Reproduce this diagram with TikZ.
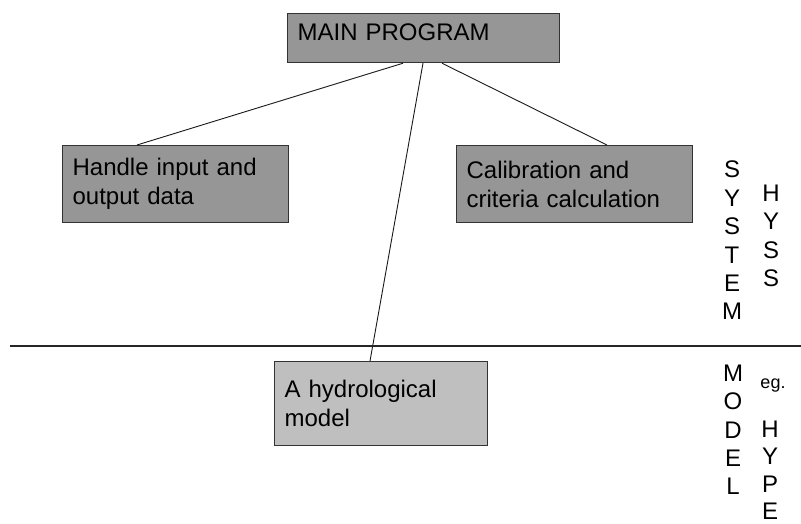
\documentclass[tikz,border=0pt]{standalone}
\usepackage{fontspec}
\setmainfont{Liberation Sans}
\begin{document}
\begin{tikzpicture}[x=1pt,y=-1pt,
  font=\fontsize{24}{28.8}\selectfont,
  box/.style={draw=black!80, line width=1.2pt, anchor=north west, align=left, inner xsep=10pt, inner ysep=0pt},
  darkbox/.style={box, fill=black!41},
  lightbox/.style={box, fill=black!25},
  conn/.style={draw=black!90, line width=0.9pt},
  vtext/.style={align=center, inner sep=0pt, anchor=north, font=\fontsize{24}{28.4}\selectfont}
]
\useasboundingbox (0,0) rectangle (801,523);
\node[darkbox, minimum width=272pt, text width=252pt, text height=17pt, text depth=12pt, inner ysep=10pt] (main) at (287,13) {MAIN PROGRAM};
\node[darkbox, minimum width=226pt, minimum height=77pt, text width=206pt] (handle) at (62,145) {Handle input and\\output data};
\node[darkbox, minimum width=236pt, minimum height=77pt, text width=216pt] (calib) at (456,145) {Calibration and\\criteria calculation};
\node[lightbox, minimum width=213pt, minimum height=84pt, text width=193pt] (hydro) at (274,361) {A hydrological\\model};
\draw[conn] ([xshift=116pt]main.south west) -- ([xshift=75pt]handle.north west);
\draw[conn] ([xshift=136pt]main.south west) -- ([xshift=96pt]hydro.north west);
\draw[conn] ([xshift=155pt]main.south west) -- ([xshift=151pt]calib.north west);
\coordinate (hl) at (10,346);
\coordinate (hr) at (801,346);
\draw[draw=black!85, line width=1.4pt] (hl) -- (hr);
\node[vtext] (system) at (732,161) {S\\Y\\S\\T\\E\\M};
\node[vtext] (hyss) at (771,184.5) {H\\Y\\S\\S};
\node[vtext] (model) at (733,364.5) {M\\O\\D\\E\\L};
\node[anchor=base, inner sep=0pt, font=\fontsize{18}{21}\selectfont] (eg) at (773,388) {eg.};
\node[vtext, font=\fontsize{24}{27.4}\selectfont] (hype) at (770,420.5) {H\\Y\\P\\E};
\end{tikzpicture}
\end{document}
